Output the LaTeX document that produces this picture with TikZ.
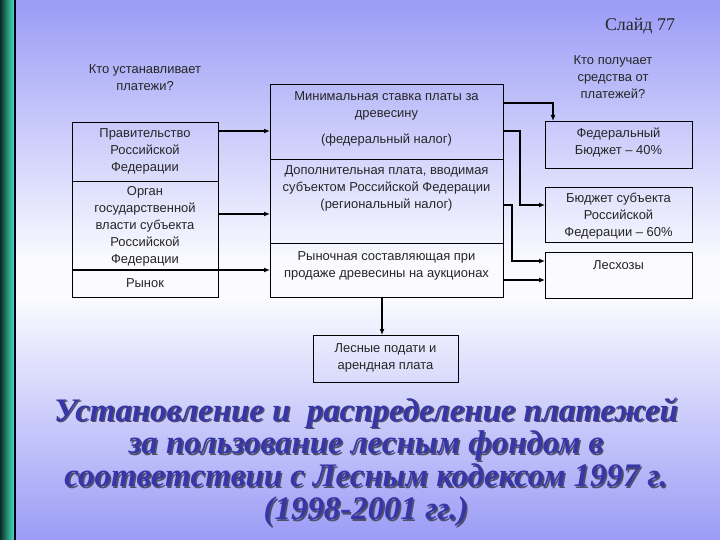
\documentclass[tikz,border=0pt]{standalone}
\usepackage{fontspec}
\setmainfont{Liberation Serif}
\newfontfamily\bodyf{Liberation Sans}
\usetikzlibrary{arrows.meta,positioning,calc}
\definecolor{bgblue}{HTML}{9A9CF6}
\definecolor{bgwhite}{HTML}{FAFAFF}
\definecolor{titleblue}{HTML}{3636A8}
\definecolor{shadowc}{HTML}{50506A}
\definecolor{tealA}{HTML}{0A2A2A}
\definecolor{tealB}{HTML}{2FA88A}
\definecolor{tealC}{HTML}{4ED2B4}
\tikzset{
  box/.style={draw=black, line width=0.9bp, rectangle, inner sep=0pt, anchor=north west},
  txt/.style={font=\bodyf\fontsize{13}{17}\selectfont, align=center, inner sep=0pt, text=black!85},
  conn/.style={draw=black, line width=1.2bp},
  arr/.style={conn, -{Latex[length=6bp,width=5bp]}},
  thickarr/.style={draw=black, line width=2.4bp, -{Latex[length=6bp,width=5bp]}},
  ttl/.style={font=\fontsize{33}{33}\selectfont\bfseries\itshape, align=center, inner sep=0pt}
}
\begin{document}
\begin{tikzpicture}[x=1bp,y=-1bp]
\useasboundingbox (0,0) rectangle (720,540);
% background
\shade[top color=bgblue, bottom color=bgwhite] (0,0) rectangle (720,260);
\fill[bgwhite] (0,259) rectangle (720,300);
\shade[top color=bgwhite, bottom color=bgblue] (0,299) rectangle (720,540);
% left strip
\shade[left color=tealA, right color=tealB] (0,0) rectangle (9,540);
\shade[left color=tealB, right color=tealC] (9,0) rectangle (14,540);
\fill[black!85!blue] (14,0) rectangle (15.5,540);

% slide number
\node[font=\fontsize{18}{20}\selectfont, text=black!85] (slide) at (640,26) {Слайд 77};

% questions
\node[txt] (q1) at (145,77.5) {Кто устанавливает\\платежи?};
\node[txt] (q2) at (613,77) {Кто получает\\средства от\\платежей?};

% left boxes
\node[box, minimum width=146bp, minimum height=59bp] (gov) at (72,122) {};
\node[box, minimum width=146bp, minimum height=89bp] (org) at (72,181) {};
\node[box, minimum width=146bp, minimum height=27bp] (mkt) at (72,270) {};
\node[txt] (govt) at (145,151.5) {Правительство\\Российской\\Федерации};
\node[txt] (orgt) at (145,226) {Орган\\государственной\\власти субъекта\\Российской\\Федерации};
\node[txt] (mktt) at (145,283) {Рынок};

% middle boxes
\node[box, minimum width=233bp, minimum height=75bp] (mid1) at (270,84) {};
\node[box, minimum width=233bp, minimum height=84bp] (mid2) at (270,159) {};
\node[box, minimum width=233bp, minimum height=54bp] (mid3) at (270,243) {};
\node[txt] (mid1t) at (386.5,106) {Минимальная ставка платы за\\древесину};
\node[txt] (mid1u) at (386.5,140) {(федеральный налог)};
\node[txt] (mid2t) at (386.5,188) {Дополнительная плата, вводимая\\субъектом Российской Федерации\\(региональный налог)};
\node[txt] (mid3t) at (386.5,265.5) {Рыночная составляющая при\\продаже древесины на аукционах};

% bottom box
\node[box, minimum width=145bp, minimum height=47bp] (les) at (313,335) {};
\node[txt] (lest) at (385.5,357.5) {Лесные подати и\\арендная плата};

% right boxes
\node[box, minimum width=147bp, minimum height=47bp] (fed) at (545,121) {};
\node[box, minimum width=147bp, minimum height=55bp] (subj) at (545,187) {};
\node[box, minimum width=147bp, minimum height=46bp] (lhz) at (545,252) {};
\node[txt] (fedt) at (618.5,142.5) {Федеральный\\Бюджет – 40\%};
\node[txt] (subjt) at (618.5,216) {Бюджет субъекта\\Российской\\Федерации – 60\%};
\node[txt] (lhzt) at (618.5,265) {Лесхозы};

% helper coordinates
\coordinate (y103) at (0,103);
\coordinate (y131) at (0,131);
\coordinate (y205) at (0,205);
\coordinate (y214) at (0,214);
\coordinate (y261) at (0,261);
\coordinate (y270) at (0,270);
\coordinate (y280) at (0,280);
\coordinate (x553) at (553,0);
\coordinate (x520) at (520,0);
\coordinate (x512) at (512,0);
\coordinate (x382) at (382,0);

% left -> middle
\draw[arr] (gov.east |- y131) -- (mid1.west |- y131);
\draw[arr] (org.east |- y214) -- (mid2.west |- y214);
\draw[thickarr] (mkt.north west) -- (mid3.west |- y270);

% middle -> bottom
\draw[arr] (x382 |- mid3.south) -- (x382 |- les.north);

% middle -> right
\draw[arr] (mid1.east |- y103) -- (x553 |- y103) -- (x553 |- fed.north);
\draw[arr] (mid1.east |- y131) -- (x520 |- y131) -- (x520 |- y205) -- (subj.west |- y205);
\draw[arr] (mid2.east |- y205) -- (x512 |- y205) -- (x512 |- y261) -- (lhz.west |- y261);
\draw[thickarr] (mid3.east |- y280) -- (lhz.west |- y280);

% title
\node[ttl, text=shadowc] (titles) at (367.5,463.5) {Установление и\ \ распределение платежей\\за пользование лесным фондом в\\соответствии с Лесным кодексом 1997 г.\\(1998-2001 гг.)};
\node[ttl, text=titleblue] (title) at (366,462) {Установление и\ \ распределение платежей\\за пользование лесным фондом в\\соответствии с Лесным кодексом 1997 г.\\(1998-2001 гг.)};
\end{tikzpicture}
\end{document}
